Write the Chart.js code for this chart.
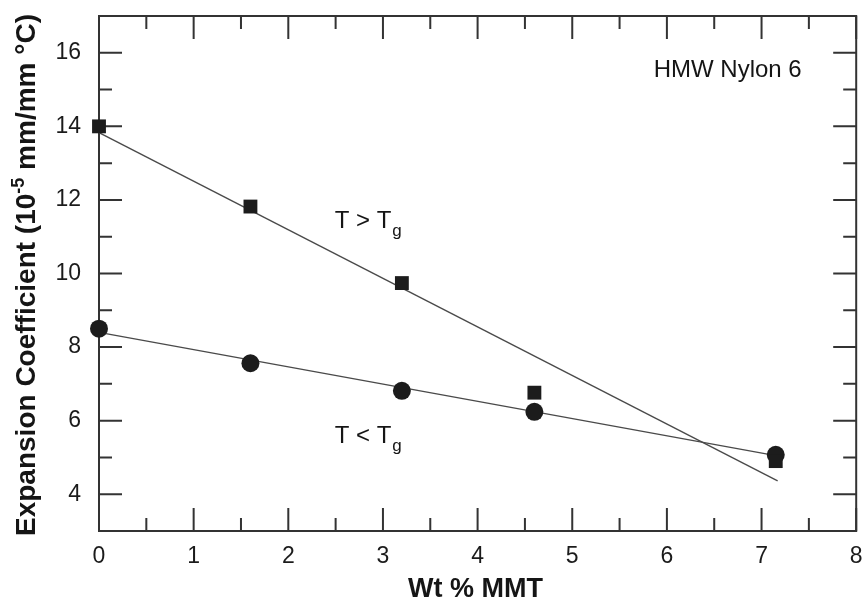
<!DOCTYPE html>
<html><head><meta charset="utf-8">
<script src="https://cdn.jsdelivr.net/npm/chart.js@4"></script>
<style>html,body{margin:0;padding:0;background:#fff}#wrap{width:866px;height:607px}</style>
</head><body><div id="wrap"><canvas id="c" width="866" height="607"></canvas></div>
<script>
// ---- data ----
const wtMMT     = [0, 1.6, 3.2, 4.6, 7.15];
const aboveTg   = [14.0, 11.82, 9.74, 6.76, 4.9];   // squares, T > Tg
const belowTg   = [8.5, 7.56, 6.81, 6.24, 5.07];    // circles, T < Tg
const fitAboveX = [0, 7.17];
const fitAboveY = [13.83, 4.36];
const fitBelowX = [0, 7.15];
const fitBelowY = [8.4, 5.05];
const xTicks = [0, 1, 2, 3, 4, 5, 6, 7, 8];
const yTicks = [4, 6, 8, 10, 12, 14, 16];
const xMinor = [0.5, 1.5, 2.5, 3.5, 4.5, 5.5, 6.5, 7.5];
const yMinor = [5, 7, 9, 11, 13, 15];

const FONT = "'Liberation Sans', Arial, sans-serif";
const pts = (xs, ys) => xs.map((x, i) => ({x: x, y: ys[i]}));

const framePlugin = {
  id: 'frame',
  beforeDatasetsDraw(chart) {
    const {ctx, chartArea: a, scales: {x, y}} = chart;
    ctx.save();
    ctx.strokeStyle = '#333';
    ctx.lineWidth = 2;
    ctx.strokeRect(a.left, a.top, a.right - a.left, a.bottom - a.top);
    ctx.beginPath();
    const MAJ = 23, MIN = 13;
    xTicks.forEach(v => { const p = x.getPixelForValue(v);
      ctx.moveTo(p, a.bottom); ctx.lineTo(p, a.bottom - MAJ);
      ctx.moveTo(p, a.top); ctx.lineTo(p, a.top + MAJ); });
    xMinor.forEach(v => { const p = x.getPixelForValue(v);
      ctx.moveTo(p, a.bottom); ctx.lineTo(p, a.bottom - MIN);
      ctx.moveTo(p, a.top); ctx.lineTo(p, a.top + MIN); });
    yTicks.forEach(v => { const p = y.getPixelForValue(v);
      ctx.moveTo(a.left, p); ctx.lineTo(a.left + MAJ, p);
      ctx.moveTo(a.right, p); ctx.lineTo(a.right - MAJ, p); });
    yMinor.forEach(v => { const p = y.getPixelForValue(v);
      ctx.moveTo(a.left, p); ctx.lineTo(a.left + MIN, p);
      ctx.moveTo(a.right, p); ctx.lineTo(a.right - MIN, p); });
    ctx.stroke();
    ctx.restore();
  },
  afterDraw(chart) {
    const {ctx, chartArea: a, scales: {x, y}} = chart;
    ctx.save();
    ctx.fillStyle = '#151515';
    // annotations
    ctx.font = '24px ' + FONT;
    ctx.textBaseline = 'alphabetic';
    ctx.textAlign = 'left';
    ctx.fillText('HMW Nylon 6', x.getPixelForValue(5.86), y.getPixelForValue(15.34));
    const sub = (main, g, xv, yv) => {
      const px = x.getPixelForValue(xv), py = y.getPixelForValue(yv);
      ctx.font = '24px ' + FONT;
      ctx.fillText(main, px, py);
      const w = ctx.measureText(main).width;
      ctx.font = '17px ' + FONT;
      ctx.fillText(g, px + w + 1, py + 8);
    };
    sub('T > T', 'g', 2.49, 11.24);
    sub('T < T', 'g', 2.49, 5.40);
    // x title
    ctx.font = 'bold 27px ' + FONT;
    ctx.textAlign = 'center';
    ctx.fillText('Wt % MMT', (a.left + a.right) / 2 - 2, 597);
    // y title with superscript
    ctx.translate(35, 275);
    ctx.rotate(-Math.PI / 2);
    const parts = [['Expansion Coefficient (10', 28, 0], ['-5', 18, -11], [' mm/mm \u00B0C)', 28, 0]];
    let total = 0;
    parts.forEach(p => { ctx.font = 'bold ' + p[1] + 'px ' + FONT; p.push(ctx.measureText(p[0]).width); total += p[3]; });
    let cx = -total / 2;
    ctx.textAlign = 'left';
    parts.forEach(p => { ctx.font = 'bold ' + p[1] + 'px ' + FONT; ctx.fillText(p[0], cx, p[2]); cx += p[3]; });
    ctx.restore();
  }
};

new Chart(document.getElementById('c'), {
  type: 'scatter',
  data: {
    datasets: [
      {label: 'T > Tg', data: pts(wtMMT, aboveTg), pointStyle: 'rect', pointRadius: 9.8,
       backgroundColor: '#1c1c1c', borderColor: '#1c1c1c', borderWidth: 0, showLine: false, clip: false, order: 0},
      {label: 'T < Tg', data: pts(wtMMT, belowTg), pointStyle: 'circle', pointRadius: 9,
       backgroundColor: '#1c1c1c', borderColor: '#1c1c1c', borderWidth: 0, showLine: false, clip: false, order: 0},
      {label: 'fit above', data: pts(fitAboveX, fitAboveY), showLine: true, pointRadius: 0,
       borderColor: '#4a4a4a', borderWidth: 1.4, order: 1, clip: false},
      {label: 'fit below', data: pts(fitBelowX, fitBelowY), showLine: true, pointRadius: 0,
       borderColor: '#4a4a4a', borderWidth: 1.4, order: 1, clip: false}
    ]
  },
  options: {
    responsive: false,
    animation: false,
    devicePixelRatio: 1,
    layout: {padding: {top: 16, right: 8, left: 0, bottom: 0}},
    plugins: {legend: {display: false}, tooltip: {enabled: false}},
    scales: {
      x: {
        type: 'linear', min: 0, max: 8,
        afterBuildTicks: s => { s.ticks = xTicks.map(v => ({value: v})); },
        afterFit: s => { s.height = 76; s.paddingLeft = 0; s.paddingRight = 0; },
        grid: {display: false, drawTicks: false}, border: {display: false},
        ticks: {padding: 12, color: '#1b1b1b', font: {family: FONT, size: 23}, maxRotation: 0, autoSkip: false}
      },
      y: {
        type: 'linear', min: 3, max: 17,
        afterBuildTicks: s => { s.ticks = yTicks.map(v => ({value: v})); },
        afterFit: s => { s.width = 99; s.paddingTop = 0; s.paddingBottom = 0; },
        grid: {display: false, drawTicks: false}, border: {display: false},
        ticks: {padding: 18, color: '#1b1b1b', font: {family: FONT, size: 23}, autoSkip: false}
      }
    }
  },
  plugins: [framePlugin]
});
</script>
</body></html>
